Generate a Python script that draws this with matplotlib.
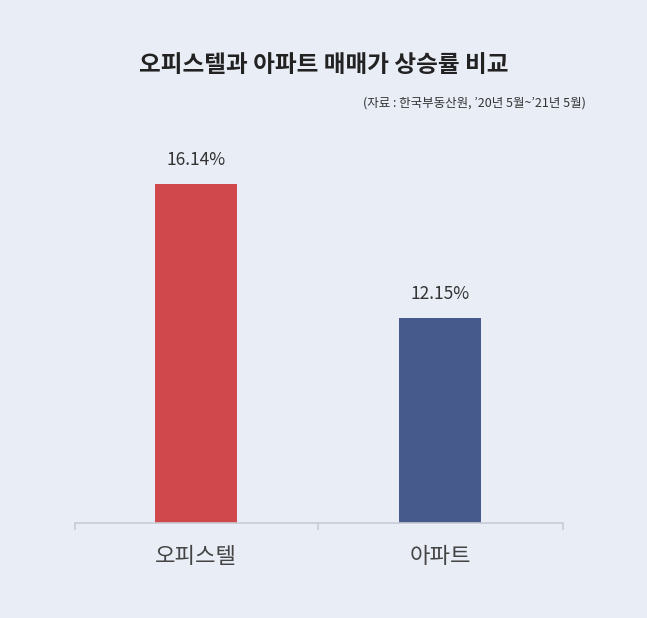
import matplotlib
matplotlib.use("Agg")
import matplotlib.pyplot as plt

plt.rcParams['font.family'] = ['Noto Sans CJK KR', 'DejaVu Sans']

categories = ['오피스텔', '아파트']
values = [16.14, 12.15]
labels = ['16.14%', '12.15%']
colors = ['#d0484b', '#465b8c']

bg = '#e9edf6'
fig = plt.figure(figsize=(6.47, 6.18), dpi=100, facecolor=bg)
ax = fig.add_axes([0.116, 0.154, 0.754, 0.619], facecolor=bg)
x = list(range(len(categories)))
ax.bar(x, values, width=0.336, color=colors)
ax.set_xlim(-0.496, 1.504)
ax.set_ylim(6.05, 17.45)
for xi, v, l in zip(x, values, labels):
    ax.text(xi, v + 0.45, l, ha='center', va='bottom', fontsize=12.5, color='#333333')
for s in ['top', 'right', 'left']:
    ax.spines[s].set_visible(False)
ax.spines['bottom'].set_color('#c8ccd4')
ax.spines['bottom'].set_linewidth(1.2)
ax.set_yticks([])
ax.set_xticks([-0.496, 0.5, 1.504], minor=True)
ax.tick_params(axis='x', which='minor', length=5, color='#c8ccd4', width=1.2)
ax.set_xticks(x)
ax.set_xticklabels(categories, fontsize=16, color='#444444')
ax.tick_params(axis='x', which='major', length=0, pad=16)

fig.text(0.5, 0.895, '오피스텔과 아파트 매매가 상승률 비교', ha='center', va='center',
         fontsize=17, fontweight='bold', color='#222222')
fig.text(0.905, 0.833, "(자료 : 한국부동산원, ’20년 5월~’21년 5월)", ha='right', va='center',
         fontsize=9, color='#333333')
fig.savefig('out.png', dpi=100, facecolor=bg)
